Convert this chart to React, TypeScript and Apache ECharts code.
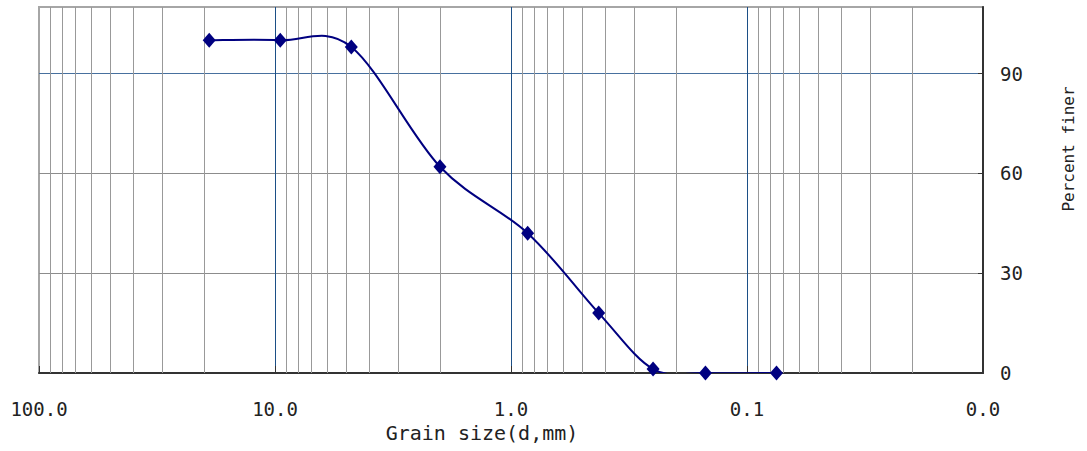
import React, { useEffect, useRef } from "react";
import * as echarts from "echarts";

// Sieve openings (mm) and percent passing
const grainSizes = [19.0, 9.5, 4.75, 2.0, 0.85, 0.425, 0.25, 0.15, 0.075];
const percentFiner = [100, 100, 98, 62, 42, 18, 1.2, 0, 0];

// Log-scale sub-decade grid positions (mm)
const minorGridSizes = [
  90, 80, 70, 60, 50, 40, 30, 20,
  9, 8, 7, 6, 5, 4, 3, 2,
  0.9, 0.8, 0.7, 0.6, 0.5, 0.4, 0.3, 0.2,
  0.09, 0.08, 0.07, 0.06, 0.05, 0.04, 0.03, 0.02,
];

const percentLabels = [0, 30, 60, 90];

const FONT = "'DejaVu Sans Mono', monospace";
const GRID_GRAY = "#8c8c8c";
const DECADE_BLUE = "#1c4f86";
const PERCENT_BLUE = "#47709e";
const NAVY = "#000080";

const points = grainSizes.map((d, i) => [d, percentFiner[i]]);

// Cardinal (Catmull-Rom) spline segment from point i to point i+1,
// placed in pixel space through the chart's own coordinate mapping.
function renderCurveSegment(params: any, api: any) {
  const i = params.dataIndex;
  const n = points.length;
  if (i >= n - 1) return null;
  const p = (k: number) => api.coord(points[Math.max(0, Math.min(n - 1, k))]);
  const p0 = p(i - 1);
  const p1 = p(i);
  const p2 = p(i + 1);
  const p3 = p(i + 2);
  return {
    type: "bezierCurve",
    shape: {
      x1: p1[0],
      y1: p1[1],
      cpx1: p1[0] + (p2[0] - p0[0]) / 6,
      cpy1: p1[1] + (p2[1] - p0[1]) / 6,
      cpx2: p2[0] - (p3[0] - p1[0]) / 6,
      cpy2: p2[1] - (p3[1] - p1[1]) / 6,
      x2: p2[0],
      y2: p2[1],
    },
    style: { stroke: NAVY, lineWidth: 2, fill: null },
  };
}

export default function App() {
  const ref = useRef<HTMLDivElement>(null);

  useEffect(() => {
    if (!ref.current) return;
    const chart = echarts.init(ref.current, null, { renderer: "svg" });

    chart.setOption({
      animation: false,
      backgroundColor: "#ffffff",
      grid: {
        left: 39,
        right: 104,
        top: 7,
        bottom: 78,
        show: true,
        borderColor: "#a6a6a6",
        borderWidth: 2,
      },
      xAxis: {
        type: "log",
        logBase: 10,
        min: 0.01,
        max: 100,
        splitNumber: 4,
        inverse: true,
        name: "Grain size(d,mm)",
        nameLocation: "middle",
        nameGap: 50,
        nameTextStyle: {
          fontFamily: FONT,
          fontSize: 20,
          color: "#222",
          padding: [0, 58, 0, 0],
        },
        axisLine: { show: true, onZero: false, lineStyle: { color: "#333", width: 2 } },
        axisTick: { show: true, inside: true, length: 7, lineStyle: { color: "#333", width: 1 } },
        axisLabel: {
          margin: 26,
          fontFamily: FONT,
          fontSize: 19,
          color: "#222",
          showMinLabel: true,
          showMaxLabel: true,
          formatter: (v: number) => Number(v).toFixed(1),
        },
        splitLine: {
          show: true,
          showMinLine: false,
          showMaxLine: false,
          lineStyle: { color: DECADE_BLUE, width: 1 },
        },
      },
      yAxis: {
        type: "value",
        position: "right",
        min: 0,
        max: 110,
        interval: 10,
        name: "Percent finer",
        nameLocation: "middle",
        nameGap: 77,
        nameTextStyle: {
          fontFamily: FONT,
          fontSize: 16,
          color: "#222",
          padding: [0, 0, 0, 82],
        },
        axisLine: { show: true, onZero: false, lineStyle: { color: "#333", width: 2 } },
        axisTick: {
          show: true,
          inside: true,
          length: 5,
          customValues: percentLabels,
          lineStyle: { color: "#333", width: 1 },
        },
        axisLabel: {
          margin: 17,
          fontFamily: FONT,
          fontSize: 19,
          color: "#222",
          customValues: percentLabels,
          formatter: (v: number) => String(v),
        },
        splitLine: {
          show: true,
          lineStyle: { color: [PERCENT_BLUE, GRID_GRAY, GRID_GRAY], width: 1 },
        },
      },
      series: [
        {
          name: "curve",
          type: "custom",
          data: points,
          encode: { x: 0, y: 1 },
          renderItem: renderCurveSegment,
          clip: true,
          silent: true,
          z: 2,
        },
        {
          name: "sieves",
          type: "scatter",
          data: points,
          symbol: "diamond",
          symbolSize: [13, 15],
          z: 3,
          itemStyle: { color: NAVY, opacity: 1 },
          emphasis: { disabled: true },
          markLine: {
            silent: true,
            z: 1,
            symbol: ["none", "none"],
            label: { show: false },
            emphasis: { disabled: true },
            lineStyle: { type: "solid", color: "#999999", width: 1 },
            data: minorGridSizes.map((v) => ({ xAxis: v })),
          },
        },
      ],
    });

    return () => chart.dispose();
  }, []);

  return (
    <div
      ref={ref}
      style={{ position: "absolute", left: 0, top: 0, width: 1087, height: 451 }}
    />
  );
}
